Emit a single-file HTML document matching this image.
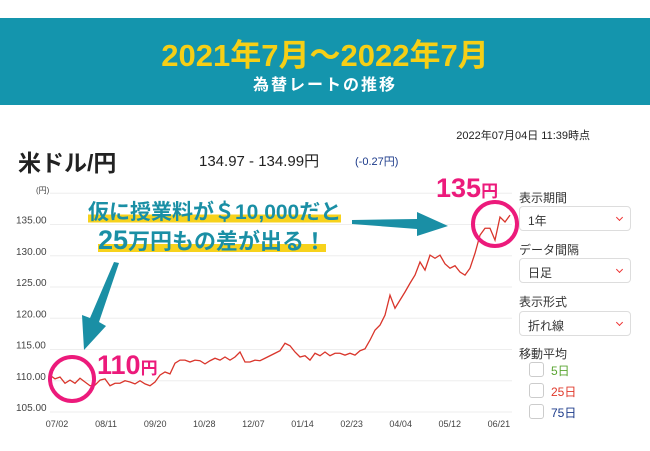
<!DOCTYPE html>
<html><head><meta charset="utf-8">
<style>
body{margin:0;width:650px;height:451px;background:#fff;font-family:"Liberation Sans","Noto Sans CJK JP",sans-serif;position:relative;overflow:hidden}
.a{position:absolute;white-space:nowrap}
.sel{position:absolute;left:519px;width:112px;height:25px;border:1px solid #ddd;border-radius:4px;box-sizing:border-box;font-size:12px;color:#333;padding:5px 0 0 8px}
.sel:after{content:"";position:absolute;right:8px;top:8px;width:4px;height:4px;border-right:1.3px solid #e33;border-bottom:1.3px solid #e33;transform:rotate(45deg)}
.cb{position:absolute;left:529px;width:15px;height:15px;border:1px solid #ccc;border-radius:3px;box-sizing:border-box}
</style></head><body>
<div class="a" style="left:0;top:18px;width:650px;height:87px;background:#1495ad"></div>
<div class="a" style="left:0;width:650px;top:30px;text-align:center;color:#f6cf16;font-weight:bold;font-size:31px">2021年7月～2022年7月</div>
<div class="a" style="left:0;width:650px;top:71px;text-align:center;color:#fff;font-weight:bold;font-size:16px;letter-spacing:2px">為替レートの推移</div>
<div class="a" style="right:60px;top:127px;font-size:11px;color:#222">2022年07月04日 11:39時点</div>
<div class="a" style="left:18px;top:144px;font-size:23px;color:#222;font-weight:bold">米ドル/円</div>
<div class="a" style="left:199px;top:150px;font-size:15px;color:#222">134.97 - 134.99円</div>
<div class="a" style="left:355px;top:153px;font-size:11px;color:#1b3a8a">(-0.27円)</div>

<svg class="a" style="left:0;top:0" width="650" height="451" id="chart"></svg>

<div class="a" style="left:88px;top:196px;font-size:21px;font-weight:bold;color:#1a8fa5;background:linear-gradient(transparent 62%,#f7d21c 62%,#f7d21c 88%,transparent 88%)">仮に授業料が＄10,000だと</div>
<div class="a" style="left:98px;top:224px;font-size:22px;font-weight:bold;color:#1a8fa5;background:linear-gradient(transparent 62%,#f7d21c 62%,#f7d21c 88%,transparent 88%)"><span style="font-size:27px">25</span>万円もの差が出る！</div>
<div class="a" style="left:97px;top:350px;font-size:27px;font-weight:bold;color:#ec1a7b">110<span style="font-size:17px">円</span></div>
<div class="a" style="left:436px;top:173px;font-size:27px;font-weight:bold;color:#ec1a7b">135<span style="font-size:17px">円</span></div>

<div class="a" style="left:519px;top:189px;font-size:12px;color:#333">表示期間</div>
<div class="sel" style="top:206px">1年</div>
<div class="a" style="left:519px;top:241px;font-size:12px;color:#333">データ間隔</div>
<div class="sel" style="top:258px">日足</div>
<div class="a" style="left:519px;top:293px;font-size:12px;color:#333">表示形式</div>
<div class="sel" style="top:311px">折れ線</div>
<div class="a" style="left:519px;top:345px;font-size:12px;color:#333">移動平均</div>
<div class="cb" style="top:362px"></div>
<div class="a" style="left:551px;top:362px;font-size:12px;color:#5aa532">5日</div>
<div class="cb" style="top:383px"></div>
<div class="a" style="left:551px;top:383px;font-size:12px;color:#e0392b">25日</div>
<div class="cb" style="top:404px"></div>
<div class="a" style="left:551px;top:404px;font-size:12px;color:#1b3a8a">75日</div>

<script>
const yTicks=[105,110,115,120,125,130,135];
const xLabels=["07/02","08/11","09/20","10/28","12/07","01/14","02/23","04/04","05/12","06/21"];
const rates=[110.9,110.3,110.6,109.6,110.1,109.6,110.4,109.8,109.2,109.3,110.1,110.3,109.2,109.6,109.6,110.0,109.8,109.5,110.0,109.5,109.2,109.8,110.9,111.4,111.1,112.8,113.3,113.3,113.0,113.3,113.2,112.7,113.2,113.6,113.3,113.8,113.3,113.8,114.6,113.0,113.0,113.3,113.2,113.6,114.0,114.4,114.8,116.0,115.6,114.6,113.8,114.0,113.3,114.4,114.0,114.6,114.0,114.4,114.4,114.1,114.4,114.1,114.8,115.1,116.5,118.1,118.9,120.5,123.7,121.6,122.9,124.2,125.6,126.9,129.0,127.7,130.1,129.6,130.1,128.7,128.0,128.4,127.4,126.9,128.0,130.4,133.3,134.4,134.4,132.5,136.2,135.4,136.5];
const NS="http://www.w3.org/2000/svg";
const svg=document.getElementById('chart');
const y=v=>412-(v-105)*6.25;
const x=i=>50+i*(460/(rates.length-1));
const xl=i=>57+i*49.1;
function mk(t,a){const e=document.createElementNS(NS,t);for(const k in a)e.setAttribute(k,a[k]);svg.appendChild(e);return e;}
[105,110,115,120,125,130,135,140].forEach(v=>{const g=mk('line',{x1:50,x2:512,y1:y(v),y2:y(v),stroke:'#eee','stroke-width':1});

});
yTicks.forEach(v=>{const t=mk('text',{x:16,y:y(v)-1,'font-size':10,fill:'#444'});t.textContent=v.toFixed(2);

});
const u=mk('text',{x:36,y:193,'font-size':8,fill:'#444'});u.textContent='(円)';


xLabels.forEach((s,i)=>{const t=mk('text',{x:xl(i),y:427,'font-size':9,fill:'#444','text-anchor':'middle'});t.textContent=s;

});
const p=mk('polyline',{points:rates.map((v,i)=>x(i)+','+y(v)).join(' '),fill:'none',stroke:'#d9352b','stroke-width':1.3});


const c1=mk('circle',{cx:72,cy:379,r:22,fill:'none',stroke:'#ec1a7b','stroke-width':4});


const c2=mk('circle',{cx:495,cy:224,r:22,fill:'none',stroke:'#ec1a7b','stroke-width':4});


const a1=mk('polygon',{points:'114,262 119,263 99,322 106,326 84,350 82,315 90,318',fill:'#1a8fa5'});


const a2=mk('polygon',{points:'352,220 417,219 417,212 448,226 417,236 417,229 352,224',fill:'#1a8fa5'});


</script>
</body></html>
